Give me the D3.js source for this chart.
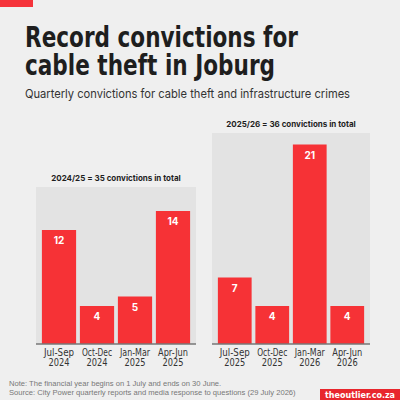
<!DOCTYPE html>
<html><head><meta charset="utf-8">
<script src="https://cdn.jsdelivr.net/npm/d3@7"></script>
<style>body{margin:0;background:#efefef}svg{display:block}</style>
</head><body><svg id="c" width="400" height="400"></svg>
<script>
const fy1Labels = ["Jul-Sep|2024","Oct-Dec|2024","Jan-Mar|2025","Apr-Jun|2025"];
const fy1Values = [12,4,5,14];
const fy2Labels = ["Jul-Sep|2025","Oct-Dec|2025","Jan-Mar|2026","Apr-Jun|2026"];
const fy2Values = [7,4,21,4];
const panelTitles = ["2024/25 = 35 convictions in total","2025/26 = 36 convictions in total"];

const svg = d3.select("#c");
const W=400,H=400;
svg.append("rect").attr("width",W).attr("height",H).attr("fill","#efefef");
svg.append("rect").attr("x",0).attr("y",0).attr("width",33).attr("height",7).attr("fill","#f5333a");
const tf = "'DejaVu Sans Condensed','Roboto',sans-serif";
svg.append("text").attr("x",25).attr("y",47).attr("font-family",tf).attr("font-weight",700).attr("font-size",29).attr("fill","#1e1e1e")
  .attr("textLength",273).attr("lengthAdjust","spacingAndGlyphs").text("Record convictions for");
svg.append("text").attr("x",25).attr("y",75).attr("font-family",tf).attr("font-weight",700).attr("font-size",29).attr("fill","#1e1e1e")
  .attr("textLength",250).attr("lengthAdjust","spacingAndGlyphs").text("cable theft in Joburg");
svg.append("text").attr("x",25).attr("y",98).attr("font-family","Inter, sans-serif").attr("font-size",12.3).attr("fill","#333")
  .attr("textLength",325).attr("lengthAdjust","spacingAndGlyphs").text("Quarterly convictions for cable theft and infrastructure crimes");

const y = d3.scaleLinear().domain([0,21]).range([344,144.5]);
const panels = [
  {labels:fy1Labels, values:fy1Values, x0:36, x1:196, top:187, title:panelTitles[0], ty:181},
  {labels:fy2Labels, values:fy2Values, x0:212, x1:370, top:133, title:panelTitles[1], ty:127}
];
panels.forEach(p=>{
  const g = svg.append("g");
  g.append("rect").attr("x",p.x0).attr("y",p.top).attr("width",p.x1-p.x0).attr("height",344-p.top).attr("fill","#e3e3e3");
  g.append("text").attr("x",(p.x0+p.x1)/2).attr("y",p.ty).attr("text-anchor","middle").attr("font-family","Inter, sans-serif").attr("font-weight",700).attr("font-size",8).attr("fill","#1e1e1e").text(p.title);
  const x = d3.scaleBand().domain(p.labels).range([p.x0+4,p.x1-4]).paddingInner(0.1).paddingOuter(0.05);
  g.selectAll("rect.b").data(p.values).join("rect").attr("class","b")
    .attr("x",(d,i)=>x(p.labels[i])).attr("width",x.bandwidth())
    .attr("y",d=>y(d)).attr("height",d=>344-y(d)).attr("fill","#f63236");
  g.selectAll("text.v").data(p.values).join("text").attr("class","v")
    .attr("x",(d,i)=>x(p.labels[i])+x.bandwidth()/2).attr("y",d=>y(d)+14)
    .attr("text-anchor","middle").attr("font-family","Inter, sans-serif").attr("font-weight",700).attr("font-size",10).attr("fill","#fff").text(d=>d);
  const ax = g.append("g").attr("transform","translate(0,344)").call(d3.axisBottom(x).tickSize(0).tickFormat(""));
  ax.select(".domain").attr("stroke","#777").attr("stroke-width",1.5).attr("d",`M${p.x0},0H${p.x1}`);
  p.labels.forEach(l=>{
    const [a,b]=l.split("|");
    const cx = x(l)+x.bandwidth()/2;
    g.append("text").attr("x",cx).attr("y",356).attr("text-anchor","middle").attr("font-family",tf).attr("font-size",10).attr("fill","#333")
      .attr("textLength",a.length>6?30:25).attr("lengthAdjust","spacingAndGlyphs").text(a);
    g.append("text").attr("x",cx).attr("y",366).attr("text-anchor","middle").attr("font-family",tf).attr("font-size",10).attr("fill","#333")
      .attr("textLength",21).attr("lengthAdjust","spacingAndGlyphs").text(b);
  });
});
svg.append("text").attr("x",9).attr("y",386).attr("font-family","Liberation Sans, sans-serif").attr("font-size",7.6).attr("fill","#777").text("Note: The financial year begins on 1 July and ends on 30 June.");
svg.append("text").attr("x",9).attr("y",395).attr("font-family","Liberation Sans, sans-serif").attr("font-size",7.6).attr("fill","#777").text("Source: City Power quarterly reports and media response to questions (29 July 2026)");
svg.append("rect").attr("x",320).attr("y",389).attr("width",80).attr("height",11).attr("fill","#e8262d");
svg.append("text").attr("x",360).attr("y",397.5).attr("text-anchor","middle").attr("font-family",tf).attr("font-weight",700).attr("font-size",9).attr("fill","#fff")
  .attr("textLength",70).attr("lengthAdjust","spacingAndGlyphs").text("theoutlier.co.za");
</script></body></html>
